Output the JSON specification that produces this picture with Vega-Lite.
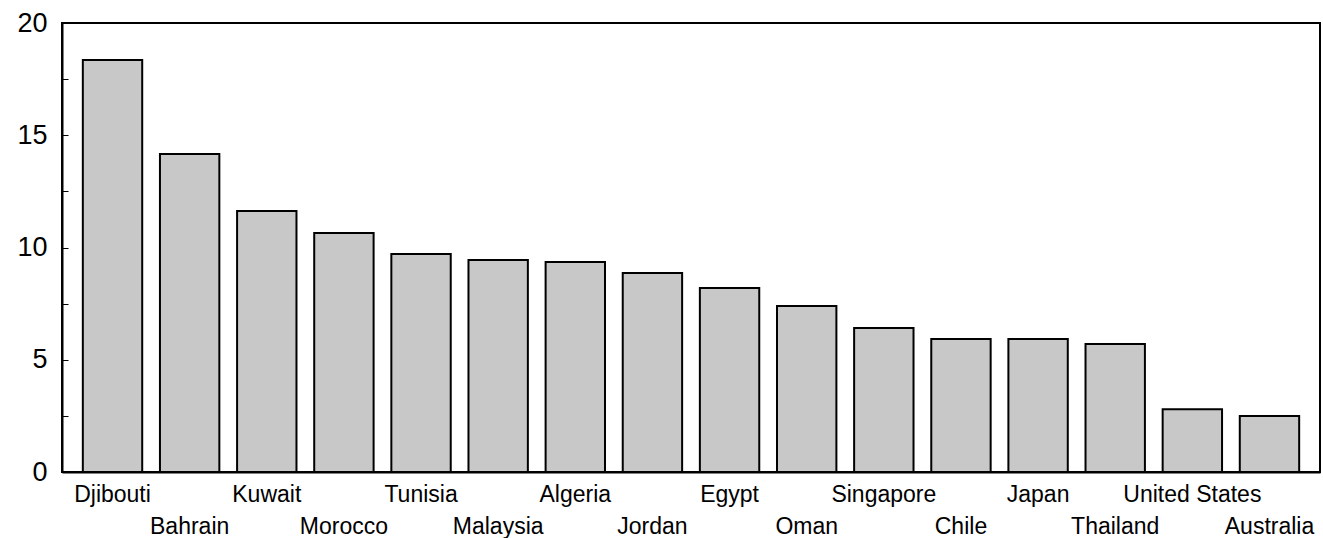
{
  "$schema": "https://vega.github.io/schema/vega-lite/v6.json",
  "width": 1258,
  "height": 449,
  "autosize": {"type": "none"},
  "padding": {"left": 62, "top": 23, "right": 3, "bottom": 66},
  "background": "white",
  "config": {
    "view": {"stroke": "black", "strokeWidth": 2},
    "font": "Liberation Sans"
  },
  "data": {
    "values": [
      {"country": "Djibouti", "value": 18.35},
      {"country": "Bahrain", "value": 14.16},
      {"country": "Kuwait", "value": 11.63},
      {"country": "Morocco", "value": 10.65},
      {"country": "Tunisia", "value": 9.71},
      {"country": "Malaysia", "value": 9.44},
      {"country": "Algeria", "value": 9.35},
      {"country": "Jordan", "value": 8.86},
      {"country": "Egypt", "value": 8.2},
      {"country": "Oman", "value": 7.39},
      {"country": "Singapore", "value": 6.41},
      {"country": "Chile", "value": 5.92},
      {"country": "Japan", "value": 5.92},
      {"country": "Thailand", "value": 5.7},
      {"country": "United States", "value": 2.8},
      {"country": "Australia", "value": 2.49}
    ]
  },
  "mark": {"type": "bar", "fill": "#c8c8c8", "stroke": "black", "strokeWidth": 2},
  "encoding": {
    "x": {
      "field": "country",
      "type": "nominal",
      "sort": null,
      "scale": {"paddingInner": 0.23, "paddingOuter": 0.27},
      "axis": {
        "title": null,
        "labelAngle": 0,
        "labelFontSize": 23,
        "labelColor": "black",
        "labelPadding": {
          "condition": {
            "test": "indexof(['Bahrain','Morocco','Malaysia','Jordan','Oman','Chile','Thailand','Australia'], datum.value) >= 0",
            "value": 51
          },
          "value": 19
        },
        "domainColor": "black",
        "domainWidth": 2,
        "tickColor": "black",
        "tickSize": -8,
        "tickWidth": 1,
        "labelOverlap": false
      }
    },
    "y": {
      "field": "value",
      "type": "quantitative",
      "scale": {"domain": [0, 20], "nice": false},
      "axis": {
        "title": null,
        "values": [0, 2.5, 5, 7.5, 10, 12.5, 15, 17.5, 20],
        "labelExpr": "datum.value % 5 == 0 ? datum.label : ''",
        "labelFontSize": 27,
        "labelColor": "black",
        "labelPadding": 21,
        "grid": false,
        "domainColor": "black",
        "domainWidth": 2,
        "tickColor": "black",
        "tickSize": -6,
        "tickWidth": 1
      }
    }
  }
}
